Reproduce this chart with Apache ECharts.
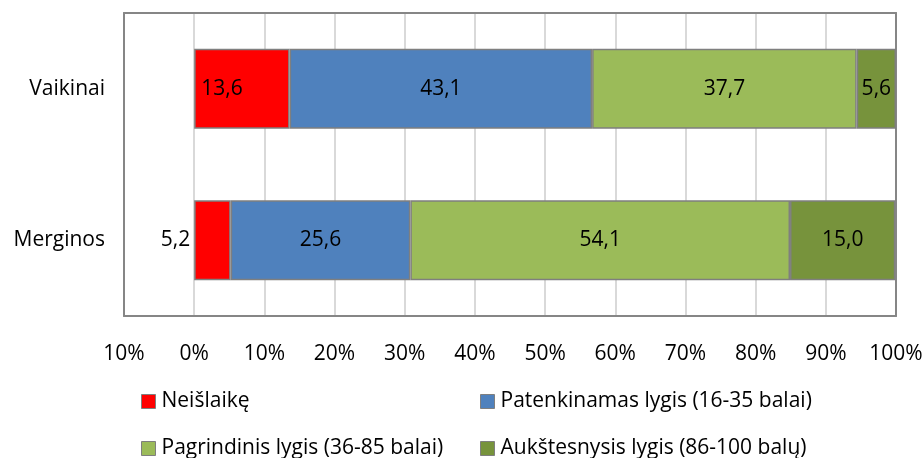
<!DOCTYPE html>
<html lang="lt">
<head>
    <meta charset="UTF-8">
    <title>Lygiai</title>
    <style>
        html, body { margin: 0; padding: 0; background: #fff; }
        #chart { width: 923px; height: 458px; }
    </style>
</head>
<body>
    <div id="chart"></div>
</body>
<script src="https://cdn.jsdelivr.net/npm/echarts@6/dist/echarts.min.js"></script>
<script>
    // kategorijos (apačia -> viršus)
    var groups = ['Merginos', 'Vaikinai'];
    var levelNames = ['Neišlaikę', 'Patenkinamas lygis (16-35 balai)', 'Pagrindinis lygis (36-85 balai)', 'Aukštesnysis lygis (86-100 balų)'];
    var levelColors = ['#ff0000', '#4f81bd', '#9bbb59', '#77933c'];
    // procentai: [Merginos, Vaikinai]
    var failed = [5.2, 13.6];
    var satisfactory = [25.6, 43.1];
    var basic = [54.1, 37.7];
    var advanced = [15.0, 5.6];
    var xTicks = [-10, 0, 10, 20, 30, 40, 50, 60, 70, 80, 90, 100];

    var font = 'Open Sans';
    var fs = 21;
    var values = [failed, satisfactory, basic, advanced];
    var frame = { show: true, onZero: false, lineStyle: { color: '#868686', width: 2 } };

    function fmt(v) {
        return v.toFixed(1).replace('.', ',');
    }

    var series = values.map(function (arr, i) {
        return {
            name: levelNames[i],
            type: 'bar',
            stack: 'all',
            barWidth: 80,
            itemStyle: { color: levelColors[i], borderColor: '#7f7f7f', borderWidth: 1.5 },
            label: {
                show: true,
                position: 'inside',
                color: '#000',
                fontFamily: font,
                fontSize: fs,
                formatter: function (p) { return fmt(p.value); }
            },
            data: arr.map(function (v, j) {
                var d = { value: v };
                if (i === 0 && j === 0) d.label = { position: 'left', distance: 4 };
                if (i === 0 && j === 1) d.label = { position: 'insideLeft', distance: 7 };
                return d;
            })
        };
    });

    var legendPos = [[141, 391], [480, 391], [141, 438], [480, 438]];
    var legends = levelNames.map(function (n, i) {
        return {
            data: [n],
            left: legendPos[i][0],
            top: legendPos[i][1],
            padding: 0,
            icon: 'rect',
            itemWidth: 14,
            itemHeight: 14,
            itemGap: 0,
            selectedMode: false,
            itemStyle: { borderColor: '#7f7f7f', borderWidth: 1 },
            textStyle: { fontFamily: font, fontSize: fs, color: '#000', padding: [0, 0, 0, 1] }
        };
    });

    var chart = echarts.init(document.getElementById('chart'));
    chart.setOption({
        animation: false,
        backgroundColor: '#fff',
        legend: legends,
        grid: { left: 124, right: 27, top: 13, bottom: 142, outerBoundsMode: 'none' },
        xAxis: [{
            type: 'value',
            min: xTicks[0],
            max: xTicks[xTicks.length - 1],
            interval: 10,
            axisLine: frame,
            axisTick: { show: false },
            splitLine: { lineStyle: { color: '#d9d9d9', width: 2 } },
            axisLabel: {
                margin: 28,
                fontFamily: font,
                fontSize: fs,
                color: '#000',
                formatter: function (v) { return Math.abs(v) + '%'; }
            }
        }, {
            // viršutinis rėmelio kraštas
            type: 'value',
            position: 'top',
            min: xTicks[0],
            max: xTicks[xTicks.length - 1],
            interval: 10,
            axisLine: frame,
            axisTick: { show: false },
            axisLabel: { show: false },
            splitLine: { show: false }
        }],
        yAxis: [{
            type: 'category',
            data: groups,
            axisLine: frame,
            axisTick: { show: false },
            axisLabel: { margin: 19, fontFamily: font, fontSize: fs, color: '#000' }
        }, {
            // dešinysis rėmelio kraštas
            type: 'category',
            position: 'right',
            data: groups,
            axisLine: frame,
            axisTick: { show: false },
            axisLabel: { show: false }
        }],
        series: series
    });
</script>
</html>
